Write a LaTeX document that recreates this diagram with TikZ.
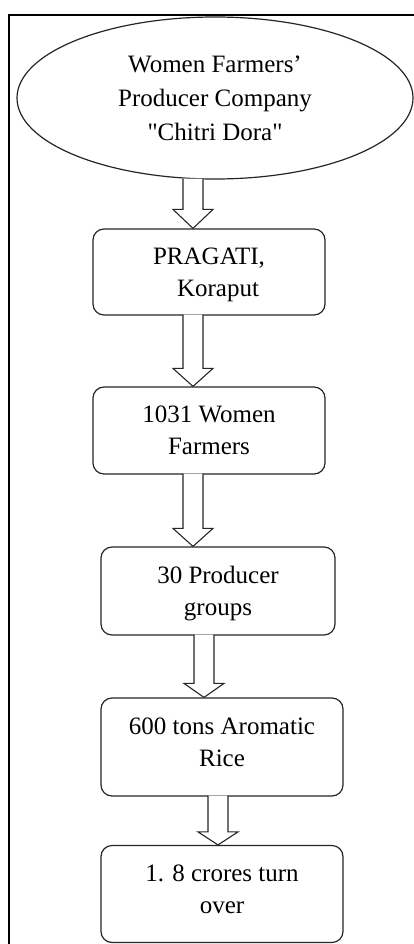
\documentclass[tikz,border=0pt]{standalone}
\usepackage{fontspec}
\setmainfont{Liberation Serif}[Ligatures=TeXOff]
\usetikzlibrary{shapes.geometric,calc}
\tikzset{
  shapeline/.style={draw=black!85, line width=1.2pt},
  ovalnode/.style={shapeline, ellipse, inner sep=0pt, align=center, font=\fontsize{25}{34}\selectfont},
  boxnode/.style={shapeline, rectangle, rounded corners=11pt, inner sep=0pt, align=center, font=\fontsize{25}{32}\selectfont, text depth=0pt},
  blockarrow/.style={draw=black!85, line width=1.1pt, fill=white, line join=miter},
  frameline/.style={draw=black, line width=1.8pt}
}
% #1 x position, #2 from node, #3 to node, #4 head length
\newcommand\blockarrowdraw[4]{%
  \draw[blockarrow] let \p1=(#2.south), \p2=(#3.north) in
    (#1pt-10pt,\y1+1pt) -- (#1pt-10pt,\y2+#4pt) -- (#1pt-20pt,\y2+#4pt) -- (#1pt,\y2)
    -- (#1pt+20pt,\y2+#4pt) -- (#1pt+10pt,\y2+#4pt) -- (#1pt+10pt,\y1+1pt);}
\begin{document}
\begin{tikzpicture}[x=1pt,y=1pt]
  \useasboundingbox (0,0) rectangle (414,-944);
  \clip (0,0) rectangle (414,-944);
  \fill[white] (0,0) rectangle (414,-944);
  \draw[frameline] (9,-960) -- (9,-15) -- (430,-15);

  \node[ovalnode, minimum width=396pt, minimum height=162pt] (e) at (215,-98)
    {Women Farmers’\\Producer Company\\"Chitri Dora"};
  \node[boxnode, minimum width=232pt, minimum height=86pt] (b1) at (209,-272)
    {PRAGATI,\\\hspace*{18pt}Koraput};
  \node[boxnode, minimum width=232pt, minimum height=87pt] (b2) at (209,-430.5)
    {1031 Women\\Farmers};
  \node[boxnode, minimum width=234pt, minimum height=88pt] (b3) at (218,-591)
    {30 Producer\\groups};
  \node[boxnode, minimum width=242pt, minimum height=98pt, text depth=9pt] (b4) at (222,-747)
    {600 tons Aromatic\\Rice};
  \node[boxnode, minimum width=242pt, minimum height=97pt, text depth=9pt] (b5) at (222,-894)
    {1. 8 crores turn\\over};

  \blockarrowdraw{193}{e}{b1}{19}
  \blockarrowdraw{193}{b1}{b2}{18}
  \blockarrowdraw{193}{b2}{b3}{18}
  \blockarrowdraw{204}{b3}{b4}{14}
  \blockarrowdraw{218}{b4}{b5}{13}
\end{tikzpicture}
\end{document}
